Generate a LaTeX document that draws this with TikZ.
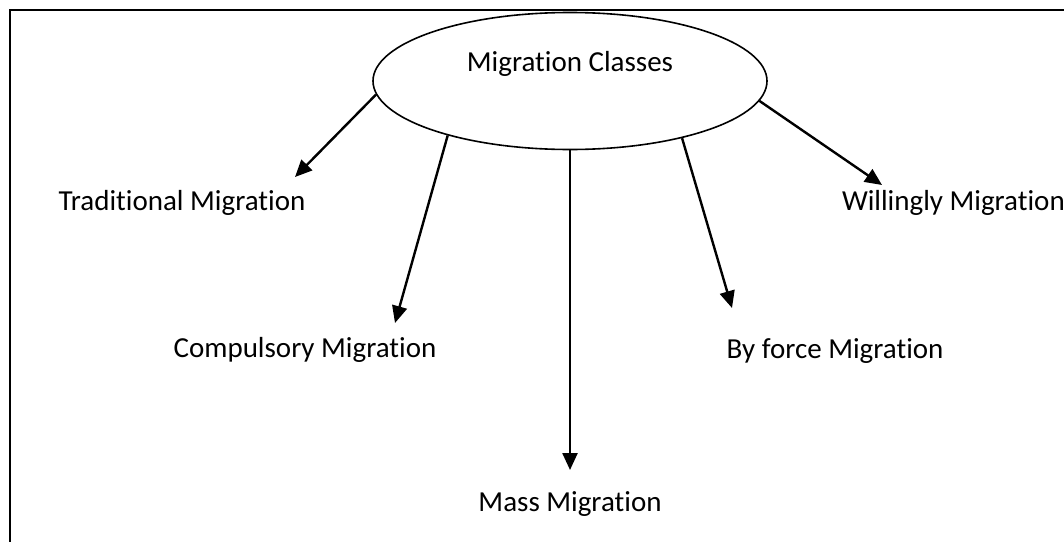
\documentclass[tikz,border=0pt]{standalone}
\usepackage{fontspec}
\setmainfont{Carlito}[Ligatures={NoCommon,NoContextual}]
\usetikzlibrary{shapes.geometric,arrows.meta}

\begin{document}
\begin{tikzpicture}[x=1pt,y=-1pt,line width=2pt,
    lbl/.style={inner sep=0pt,font=\fontsize{29}{34}\selectfont}]
    \useasboundingbox (0,0) rectangle (1064,541);
    \clip (0,0) rectangle (1064,541);
    %% Draw the frame
    \draw (10,10) rectangle (1090,570);
    %% Draw the nodes
    \node[draw,ellipse,line width=1.6pt,minimum width=394pt,minimum height=137pt,
      lbl,text height=20pt,text depth=40pt] (MC) at (570,81) {Migration Classes};
    \node[lbl,anchor=base] (TM) at (182,210) {Traditional Migration};
    \node[lbl,anchor=base] (CM) at (305,357) {Compulsory Migration};
    \node[lbl,anchor=base] (MM) at (570,511) {Mass Migration};
    \node[lbl,anchor=base] (BM) at (835,358) {By force Migration};
    \node[lbl,anchor=base west] (WM) at (841,210) {Willingly Migration};
    %% Draw the arrow tips
    \coordinate (TMa) at (295,177);
    \coordinate (CMa) at (395,323);
    \coordinate (MMa) at (570,470);
    \coordinate (BMa) at (732,308);
    \coordinate (WMa) at (882,185);
    %% Draw the edges
    \begin{scope}[line width=2.4pt,every path/.style={-{Triangle[length=17pt,width=15pt]}}]
      \draw (MC.184.7) -- (TMa);
      \draw (MC.204.9) -- (CMa);
      \draw (MC.south) -- (MMa);
      \draw (MC.333) -- (BMa);
      \draw (MC.354.3) -- (WMa);
    \end{scope}
  \end{tikzpicture}
\end{document}
